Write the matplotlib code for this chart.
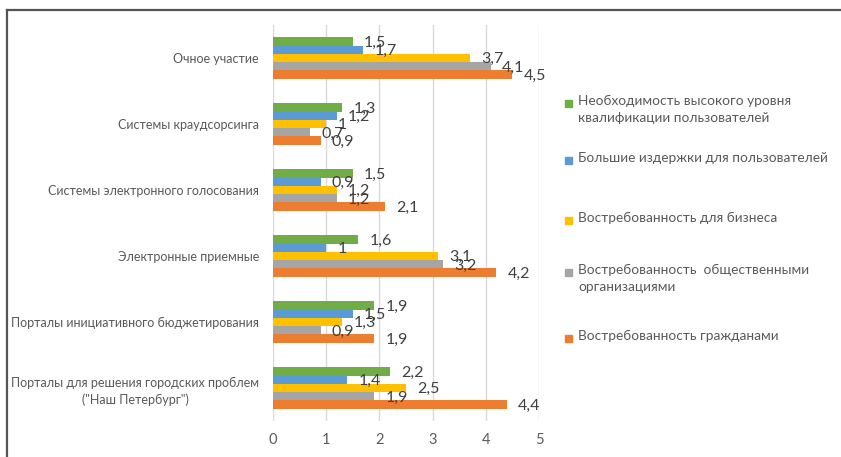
import matplotlib
matplotlib.use("Agg")
import matplotlib.pyplot as plt
from matplotlib.patches import Rectangle
from matplotlib.lines import Line2D
import numpy as np

plt.rcParams['font.family'] = ['Lato', 'DejaVu Sans']

categories = [
    "Очное участие",
    "Системы краудсорсинга",
    "Системы электронного голосования",
    "Электронные приемные",
    "Порталы инициативного бюджетирования",
    "Порталы для решения городских проблем\n(\"Наш Петербург\")",
]

series_names = [
    "Необходимость высокого уровня\nквалификации пользователей",
    "Большие издержки для пользователей",
    "Востребованность для бизнеса",
    "Востребованность  общественными\nорганизациями",
    "Востребованность гражданами",
]

qualification = [1.5, 1.3, 1.5, 1.6, 1.9, 2.2]
user_costs = [1.7, 1.2, 0.9, 1.0, 1.5, 1.4]
business = [3.7, 1.0, 1.2, 3.1, 1.3, 2.5]
public_orgs = [4.1, 0.7, 1.2, 3.2, 0.9, 1.9]
citizens = [4.5, 0.9, 2.1, 4.2, 1.9, 4.4]

series_values = [qualification, user_costs, business, public_orgs, citizens]
colors = ["#70AD47", "#5B9BD5", "#FFC000", "#A5A5A5", "#ED7D31"]

x_ticks = [0, 1, 2, 3, 4, 5]

W, H = 841, 457
fig = plt.figure(figsize=(W / 100, H / 100), dpi=100)
fig.patch.set_facecolor("white")

ax = fig.add_axes([273 / W, 1 - 421 / H, (539 - 273) / W, (421 - 25) / H])

text_color = "#595959"
label_color = "#404040"
bar_h = 0.126
y_base = np.arange(len(categories))

for k, (vals, col) in enumerate(zip(series_values, colors)):
    offs = (k - 2) * bar_h
    ys = y_base + offs
    ax.barh(ys, vals, height=bar_h, color=col, zorder=3)
    for y, v in zip(ys, vals):
        txt = ("%g" % v).replace(".", ",")
        ax.annotate(txt, (v, y), xytext=(8, -1), textcoords="offset points",
                    ha="left", va="center", fontsize=11.5, color=label_color,
                    zorder=4)

ax.set_xlim(0, 5)
ax.set_ylim(len(categories) - 0.5, -0.5)
ax.set_xticks(x_ticks)
ax.set_xticklabels([str(t) for t in x_ticks], fontsize=10.5, color=text_color)
ax.set_yticks(y_base)
ax.set_yticklabels(categories, fontsize=9.0, color=text_color,
                   multialignment="center", linespacing=1.45)
ax.tick_params(axis="both", length=0)
ax.tick_params(axis="x", pad=9)
ax.tick_params(axis="y", pad=10)
ax.grid(axis="x", color="#D9D9D9", linewidth=1.0, zorder=0)
for s in ax.spines.values():
    s.set_visible(False)

# legend drawn in figure pixel coordinates
legend_marker_y = [103, 160, 220, 272, 338]
for name, col, my in zip(series_names, colors, legend_marker_y):
    fig.patches.append(Rectangle((565 / W, 1 - (my + 4) / H), 7 / W, 7 / H,
                                 transform=fig.transFigure, color=col))
    fig.text(578 / W, 1 - (my - 8) / H, name, fontsize=9.8, color=text_color,
             va="top", ha="left", linespacing=1.45)

# outer frame along the top and left edges
fig.lines.append(Line2D([7 / W, 1], [1 - 10 / H, 1 - 10 / H],
                        transform=fig.transFigure, color="#555555", linewidth=1.6))
fig.lines.append(Line2D([7 / W, 7 / W], [1 - 10 / H, 0],
                        transform=fig.transFigure, color="#555555", linewidth=1.6))

fig.savefig("out.png", dpi=100)
